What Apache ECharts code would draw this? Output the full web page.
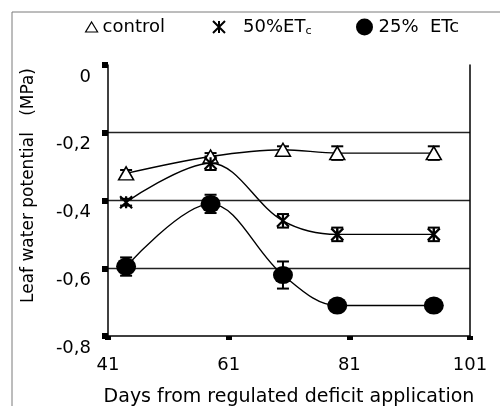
<!DOCTYPE html>
<html>
<head>
<meta charset="utf-8">
<script src="https://cdn.jsdelivr.net/npm/echarts@6/dist/echarts.min.js"></script>
<style>html,body{margin:0;padding:0;background:#fff}#c{width:500px;height:406px}</style>
</head>
<body>
<div id="c"></div>
<script>
// ---- data ----
const days = [44, 58, 70, 79, 95];
const controlVals = [-0.32, -0.27, -0.25, -0.26, -0.26];
const controlErr  = [0.01, 0.01, 0.01, 0.02, 0.02];
const et50Vals = [-0.405, -0.29, -0.46, -0.50, -0.50];
const et50Err  = [0.01, 0.02, 0.02, 0.02, 0.02];
const et25Vals = [-0.595, -0.41, -0.62, -0.71, -0.71];
const et25Err  = [0.027, 0.027, 0.04, 0.01, 0.01];
const xTicks = [41, 61, 81, 101];
const yTicks = [-0.8, -0.6, -0.4, -0.2, 0];
const seriesNames = ['control', '50%ETc', '25% ETc'];

const FONT = 'DejaVu Sans';
const pts = vals => days.map((d, i) => [d, vals[i]]);
const errs = (vals, e) => days.map((d, i) => [d, vals[i] - e[i], vals[i] + e[i]]);

const triPath = 'path://M6,0L12,10L0,10Z';
const astPath = 'path://M0,0L12,12M12,0L0,12M6,0L6,12';

function errRender(params, api) {
  const x = api.value(0), lo = api.value(1), hi = api.value(2);
  const a = api.coord([x, lo]), b = api.coord([x, hi]);
  const hw = 6;
  const st = {stroke: '#000', lineWidth: 2};
  return {type: 'group', children: [
    {type: 'line', shape: {x1: a[0], y1: a[1], x2: b[0], y2: b[1]}, style: st},
    {type: 'line', shape: {x1: b[0] - hw, y1: b[1], x2: b[0] + hw, y2: b[1]}, style: st},
    {type: 'line', shape: {x1: a[0] - hw, y1: a[1], x2: a[0] + hw, y2: a[1]}, style: st}
  ]};
}

const chart = echarts.init(document.getElementById('c'), null, {renderer: 'canvas'});
const legendBase = {
  top: 18, padding: 0, orient: 'horizontal', selectedMode: false,
  textStyle: {fontFamily: FONT, fontSize: 18, color: '#000'}
};
chart.setOption({
  animation: false,
  backgroundColor: '#fff',
  graphic: [{
    type: 'rect', shape: {x: 12, y: 12, width: 700, height: 700},
    style: {fill: 'none', stroke: '#7a7a7a', lineWidth: 1}, silent: true, z: -1
  }],
  legend: [
    Object.assign({}, legendBase, {
      left: 85, itemWidth: 12, itemHeight: 10, icon: triPath,
      itemStyle: {color: '#fff', borderColor: '#000', borderWidth: 1.2},
      data: [seriesNames[0]]
    }),
    Object.assign({}, legendBase, {
      left: 212, itemWidth: 12, itemHeight: 12, icon: astPath,
      itemStyle: {color: '#000', borderColor: '#000', borderWidth: 2},
      data: [seriesNames[1]],
      formatter: () => '{g|}{a|50%ET}{s|c}',
      textStyle: {fontFamily: FONT, fontSize: 18, color: '#000', rich: {
        g: {width: 13}, a: {fontFamily: FONT, fontSize: 18, color: '#000'},
        s: {fontFamily: FONT, fontSize: 11, color: '#000', padding: [9, 0, 0, 0]}
      }}
    }),
    Object.assign({}, legendBase, {
      left: 356, itemWidth: 18, itemHeight: 17, icon: 'circle',
      itemStyle: {color: '#000', borderWidth: 0},
      data: [seriesNames[2]],
      formatter: () => '25%  ETc'
    })
  ],
  grid: {left: 108, right: 30, top: 65, bottom: 70, containLabel: false, outerBoundsMode: 'none'},
  xAxis: {
    type: 'value', min: xTicks[0], max: xTicks[xTicks.length - 1], interval: 20,
    name: 'Days from regulated deficit application', nameLocation: 'middle', nameGap: 52,
    nameTextStyle: {fontFamily: FONT, fontSize: 19, color: '#000'},
    axisLine: {show: true, onZero: false, lineStyle: {color: '#000', width: 1.5}},
    axisTick: {show: true, length: 4, lineStyle: {color: '#000', width: 6}},
    axisLabel: {margin: 20, fontFamily: FONT, fontSize: 18, color: '#000'},
    splitLine: {show: false}
  },
  yAxis: [{
    type: 'value', min: yTicks[0], max: yTicks[yTicks.length - 1], interval: 0.2,
    name: 'Leaf water potential   (MPa)', nameLocation: 'middle', nameGap: 71,
    nameTextStyle: {fontFamily: FONT, fontSize: 17, color: '#000', padding: [0, 0, 0, 30]},
    axisLine: {show: true, onZero: false, lineStyle: {color: '#000', width: 1.5}},
    axisTick: {show: true, length: 6, lineStyle: {color: '#000', width: 6}},
    axisLabel: {margin: 17, fontFamily: FONT, fontSize: 18, color: '#000',
      verticalAlign: 'top', lineHeight: 24,
      formatter: v => (Math.abs(v) < 1e-9 ? '0' : v.toFixed(1).replace('.', ','))},
    splitLine: {show: true, lineStyle: {color: '#222', width: 1.4},
      showMinLine: false, showMaxLine: false}
  }, {
    type: 'value', position: 'right', min: yTicks[0], max: yTicks[yTicks.length - 1], interval: 0.2,
    axisLine: {show: true, onZero: false, lineStyle: {color: '#000', width: 1.5}},
    axisTick: {show: false}, axisLabel: {show: false}, splitLine: {show: false}
  }],
  series: [
    {name: seriesNames[0], type: 'line', data: pts(controlVals), smooth: 0.35,
     symbol: triPath, symbolSize: [15, 13], z: 3,
     lineStyle: {color: '#000', width: 1.4},
     itemStyle: {color: '#fff', borderColor: '#000', borderWidth: 1.5}},
    {name: seriesNames[1], type: 'line', data: pts(et50Vals), smooth: 0.35,
     symbol: astPath, symbolSize: 12, z: 3,
     lineStyle: {color: '#000', width: 1.4},
     itemStyle: {color: '#000', borderColor: '#000', borderWidth: 2.2}},
    {name: seriesNames[2], type: 'line', data: pts(et25Vals), smooth: 0.35,
     symbol: 'circle', symbolSize: [20, 18], z: 3,
     lineStyle: {color: '#000', width: 1.4},
     itemStyle: {color: '#000', borderWidth: 0}},
    {type: 'custom', renderItem: errRender, data: errs(controlVals, controlErr), z: 2, encode: {x: 0, y: [1, 2]}},
    {type: 'custom', renderItem: errRender, data: errs(et50Vals, et50Err), z: 2, encode: {x: 0, y: [1, 2]}},
    {type: 'custom', renderItem: errRender, data: errs(et25Vals, et25Err), z: 2, encode: {x: 0, y: [1, 2]}}
  ]
});
</script>
</body>
</html>
